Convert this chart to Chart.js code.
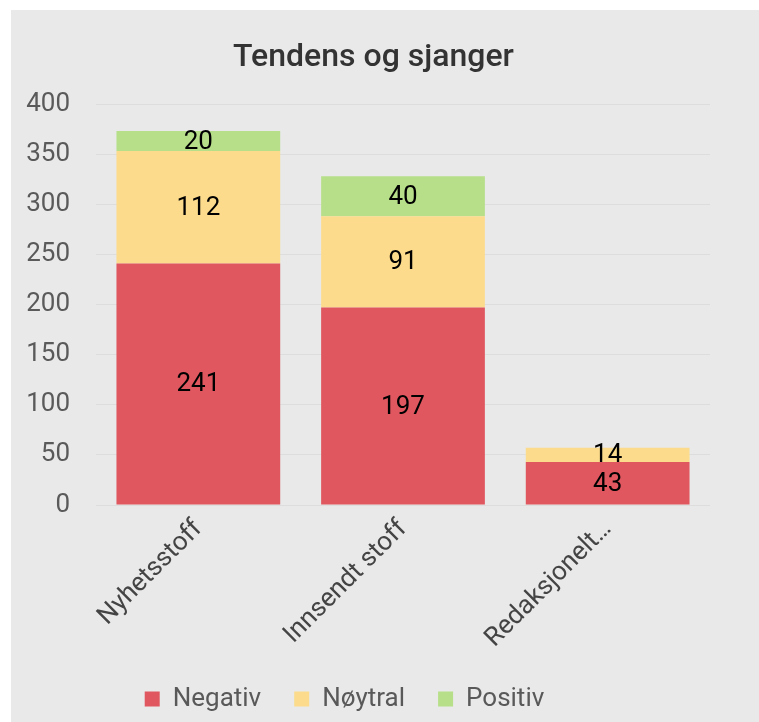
<!DOCTYPE html>
<html>
<head>
<meta charset="utf-8">
<script src="https://cdn.jsdelivr.net/npm/chart.js@4.4.1/dist/chart.umd.min.js"></script>
<style>
  html, body { margin: 0; padding: 0; background: #ffffff; }
  #wrap { position: absolute; left: 11px; top: 10px; width: 748px; height: 712px; background: #e8e9e8; }
  canvas { display: block; }
</style>
</head>
<body>
<div id="wrap"><canvas id="c" width="748" height="712"></canvas></div>
<script>
const categories = ["Nyhetsstoff", "Innsendt stoff", "Redaksjonelt…"];
const negativ = [241, 197, 43];
const noytral = [112, 91, 14];
const positiv = [20, 40, 0];
const seriesNames = ["Negativ", "Nøytral", "Positiv"];
const seriesColors = ["#e0575f", "#fcdc8c", "#b7df8a"];
const yTicks = [0, 50, 100, 150, 200, 250, 300, 350, 400];

const FONT = "Roboto";

const dataLabels = {
  id: "dataLabels",
  afterDatasetsDraw(chart) {
    const ctx = chart.ctx;
    ctx.save();
    ctx.font = "26px " + FONT;
    ctx.fillStyle = "#000000";
    ctx.textAlign = "center";
    ctx.textBaseline = "middle";
    chart.data.datasets.forEach((ds, di) => {
      const meta = chart.getDatasetMeta(di);
      meta.data.forEach((bar, i) => {
        const v = ds.data[i];
        if (!v) return;
        const y = (bar.y + bar.base) / 2;
        ctx.fillText(String(v), bar.x, y + 1);
      });
    });
    ctx.restore();
  }
};

const blockShift = {
  id: "blockShift",
  afterLayout(chart) {
    const lg = chart.legend;
    if (lg) { lg.left -= 16; lg.right -= 16; }
    const tb = chart.titleBlock;
    if (tb) { tb.left += 13; tb.right += 13; }
  }
};

new Chart(document.getElementById("c"), {
  type: "bar",
  data: {
    labels: categories,
    datasets: [
      { label: seriesNames[0], data: negativ, backgroundColor: seriesColors[0] },
      { label: seriesNames[1], data: noytral, backgroundColor: seriesColors[1] },
      { label: seriesNames[2], data: positiv, backgroundColor: seriesColors[2] }
    ]
  },
  options: {
    responsive: false,
    animation: false,
    devicePixelRatio: 1,
    layout: { padding: { left: 0, right: 49, top: 10, bottom: 0 } },
    datasets: { bar: { barPercentage: 0.8, categoryPercentage: 1.0, borderWidth: 0 } },
    scales: {
      x: {
        stacked: true,
        grid: { display: false },
        border: { display: false },
        ticks: {
          autoSkip: false, maxRotation: 45, minRotation: 45,
          color: "#444444", font: { family: FONT, size: 26 }, padding: 1
        },
        afterFit(scale) { scale.height = 148; }
      },
      y: {
        stacked: true,
        min: 0, max: 400,
        afterBuildTicks(scale) { scale.ticks = yTicks.map(v => ({ value: v })); },
        grid: { color: "#dcdddc", drawTicks: false, lineWidth: 1 },
        border: { display: false },
        ticks: { color: "#5a5a5a", font: { family: FONT, size: 26 }, padding: 26 },
        afterFit(scale) { scale.width = 85; }
      }
    },
    plugins: {
      title: {
        display: true,
        text: "Tendens og sjanger",
        color: "#333333",
        font: { family: FONT, size: 32, weight: 500 },
        padding: { top: 19, bottom: 26.6 }
      },
      legend: {
        position: "bottom",
        labels: {
          boxWidth: 15, boxHeight: 15,
          color: "#595959",
          font: { family: FONT, size: 26 },
          padding: 33
        }
      },
      tooltip: { enabled: false }
    }
  },
  plugins: [dataLabels, blockShift]
});
</script>
</body>
</html>
